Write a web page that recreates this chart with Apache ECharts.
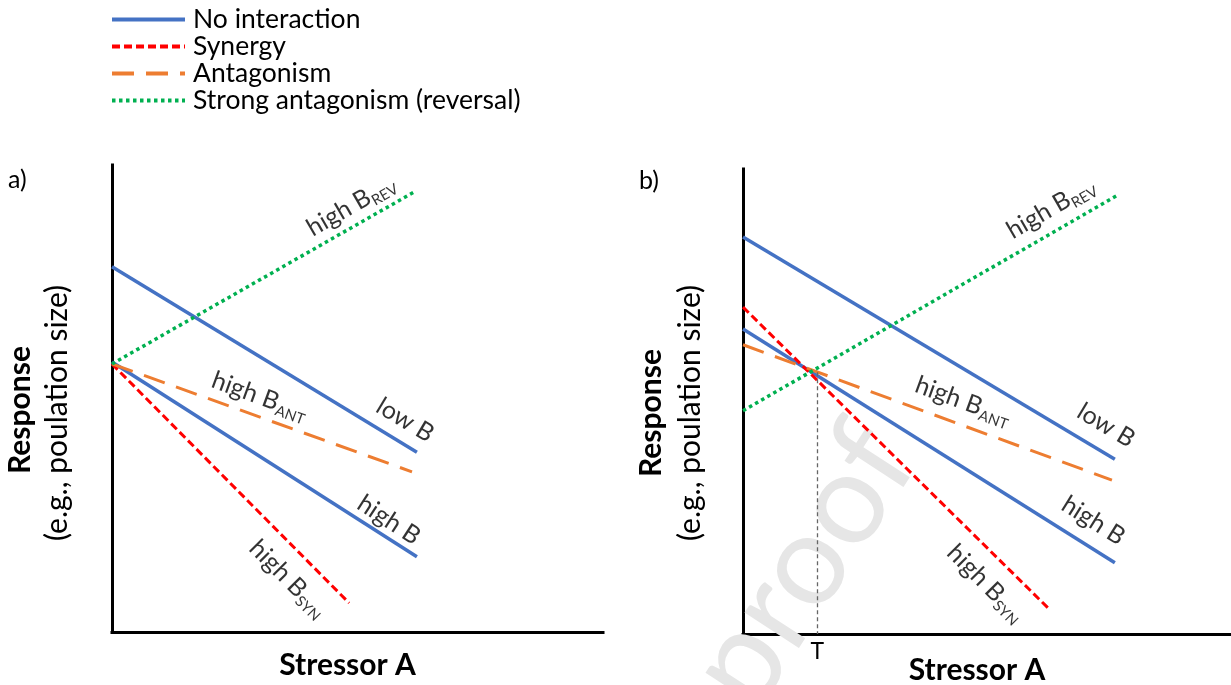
<!DOCTYPE html>
<html>
<head>
<meta charset="utf-8">
<script src="https://cdn.jsdelivr.net/npm/echarts@6/dist/echarts.min.js"></script>
<style>
html,body{margin:0;padding:0;background:#fff;}
#chart{width:1231px;height:685px;}
</style>
</head>
<body>
<div id="chart"></div>
<script>
// ---- data (arbitrary response units, 0-100 on both axes) ----
const legendNames = ['No interaction', 'Synergy', 'Antagonism', 'Strong antagonism (reversal)'];

// panel a)
const aLowB  = [[0, 78.2], [62.1, 38.5]];
const aHighB = [[0, 57.8], [62.1, 16.1]];
const aSyn   = [[0, 57.4], [48.3, 6.2]];
const aAnt   = [[0, 57.4], [61.1, 34.3]];
const aRev   = [[0, 57.4], [61.5, 94.2]];

// panel b)
const bLowB  = [[0, 85.4], [76.2, 37.6]];
const bHighB = [[0, 65.6], [76.2, 15.3]];
const bSyn   = [[0, 70.3], [62.9, 5.2]];
const bAnt   = [[0, 62.2], [75.6, 33.1]];
const bRev   = [[0, 48.0], [76.8, 94.4]];
const bThresholdX = 15.2;
const bThresholdY = 56.3;

// line annotations: [x, y, main text, subscript]
const aLabels = [[48.7, 91.3, 'high B', 'REV'], [59.7, 45.4, 'low B', ''], [30.1, 50.5, 'high B', 'ANT'], [56.4, 24.0, 'high B', ''], [35.9, 11.4, 'high B', 'SYN']];
const bLabels = [[63.1, 91.6, 'high B', 'REV'], [74.4, 44.9, 'low B', ''], [45.1, 50.1, 'high B', 'ANT'], [71.8, 24.4, 'high B', ''], [49.8, 10.9, 'high B', 'SYN']];
const aAngles = [30, -31, -20, -33, -45];
const bAngles = [30, -31, -20, -32, -45];

// ---- styles ----
const FONT = 'Lato';
const C = {blue: '#4472C4', red: '#FF0000', orange: '#ED7D31', green: '#00B050'};
const styles = {
  'No interaction': {color: C.blue, width: 3.5, type: 'solid'},
  'Synergy': {color: C.red, width: 3, type: [8, 4]},
  'Antagonism': {color: C.orange, width: 3, type: [22, 12]},
  'Strong antagonism (reversal)': {color: C.green, width: 3.5, type: [3.5, 3.5]}
};

function lineSeries(name, data, gi, extra) {
  const st = styles[name];
  return Object.assign({
    type: 'line', name: name, data: data, xAxisIndex: gi, yAxisIndex: gi,
    symbol: 'none', showSymbol: false, silent: true, animation: false,
    lineStyle: {color: st.color, width: st.width, type: st.type, cap: 'butt'},
    itemStyle: {color: st.color},
    z: 3
  }, extra || {});
}

function labelSeries(labels, angles, gi) {
  return {
    type: 'scatter', xAxisIndex: gi, yAxisIndex: gi, silent: true, animation: false,
    symbolSize: 1, itemStyle: {color: 'rgba(0,0,0,0)'}, z: 4,
    data: labels.map((l, i) => ({
      value: [l[0], l[1]],
      label: {
        show: true, position: 'inside', rotate: angles[i],
        formatter: l[3] ? '{m|' + l[2] + '}{s|' + l[3] + '}' : '{m|' + l[2] + '}',
        rich: {
          m: {fontFamily: FONT, fontSize: 25, color: '#000', lineHeight: 30, verticalAlign: 'middle'},
          s: {fontFamily: FONT, fontSize: 15, color: '#000', lineHeight: 16, verticalAlign: 'bottom'}
        }
      }
    }))
  };
}

const axisLine = {show: true, lineStyle: {color: '#000', width: 3, cap: 'square'}};
function xAx(gi, nameGap) {
  return {type: 'value', gridIndex: gi, min: 0, max: 100, axisLine: axisLine,
    axisTick: {show: false}, axisLabel: {show: false}, splitLine: {show: false},
    name: 'Stressor A', nameLocation: 'middle', nameGap: nameGap,
    nameTextStyle: {fontFamily: FONT, fontSize: 30, fontWeight: 'bold', color: '#000', padding: [0, 20, 0, 0]}};
}
function yAx(gi) {
  return {type: 'value', gridIndex: gi, min: 0, max: 100, axisLine: axisLine,
    axisTick: {show: false}, axisLabel: {show: false}, splitLine: {show: false}};
}

const chart = echarts.init(document.getElementById('chart'), null, {renderer: 'canvas'});
chart.setOption({
  backgroundColor: '#fff',
  animation: false,
  grid: [
    {left: 112, top: 165, width: 491, height: 467, containLabel: false, outerBoundsMode: 'none'},
    {left: 743, top: 169, width: 488, height: 465, containLabel: false, outerBoundsMode: 'none'}
  ],
  xAxis: [xAx(0, 18), xAx(1, 21)],
  yAxis: [yAx(0), yAx(1)],
  legend: {
    data: legendNames, orient: 'vertical', left: 110, top: 6, padding: 0,
    itemWidth: 73, itemHeight: 14, itemGap: 0, selectedMode: false,
    itemStyle: {color: 'rgba(0,0,0,0)', opacity: 0, borderWidth: 0},
    lineStyle: {width: 4},
    textStyle: {fontFamily: FONT, fontSize: 26.5, color: '#000', padding: [0, 0, 0, 3]}
  },
  graphic: [
    {type: 'text', left: 8, top: 167, style: {text: 'a)', font: '25px ' + FONT, fill: '#000'}},
    {type: 'text', left: 639, top: 168, style: {text: 'b)', font: '25px ' + FONT, fill: '#000'}},
    {type: 'text', x: 20, y: 410, rotation: Math.PI / 2, style: {text: 'Response', font: 'bold 30px ' + FONT, fill: '#000', align: 'center', verticalAlign: 'middle'}},
    {type: 'text', x: 57, y: 413, rotation: Math.PI / 2, style: {text: '(e.g., poulation size)', font: '30px ' + FONT, fill: '#000', align: 'center', verticalAlign: 'middle'}},
    {type: 'text', x: 651, y: 413, rotation: Math.PI / 2, style: {text: 'Response', font: 'bold 30px ' + FONT, fill: '#000', align: 'center', verticalAlign: 'middle'}},
    {type: 'text', x: 690, y: 413, rotation: Math.PI / 2, style: {text: '(e.g., poulation size)', font: '30px ' + FONT, fill: '#000', align: 'center', verticalAlign: 'middle'}},
    {type: 'text', x: 886, y: 438, z: 1, rotation: 57 * Math.PI / 180, silent: true,
      style: {text: 'Journal Pre-proof', font: '128px ' + FONT, fill: '#e6e6e6', align: 'right', verticalAlign: 'middle'}}
  ],
  series: [
    lineSeries('No interaction', aLowB, 0),
    lineSeries('No interaction', aHighB, 0),
    lineSeries('Synergy', aSyn, 0),
    lineSeries('Antagonism', aAnt, 0),
    lineSeries('Strong antagonism (reversal)', aRev, 0),
    lineSeries('No interaction', bLowB, 1, {
      markLine: {
        silent: true, symbol: 'none', animation: false,
        lineStyle: {color: '#666', width: 1.3, type: [4, 3]},
        label: {show: true, position: 'end', distance: 6, formatter: 'T', fontFamily: FONT, fontSize: 23, color: '#000'},
        data: [[{coord: [bThresholdX, bThresholdY]}, {coord: [bThresholdX, 0]}]]
      }
    }),
    lineSeries('No interaction', bHighB, 1),
    lineSeries('Synergy', bSyn, 1),
    lineSeries('Antagonism', bAnt, 1),
    lineSeries('Strong antagonism (reversal)', bRev, 1),
    labelSeries(aLabels, aAngles, 0),
    labelSeries(bLabels, bAngles, 1)
  ]
});
</script>
</body>
</html>
